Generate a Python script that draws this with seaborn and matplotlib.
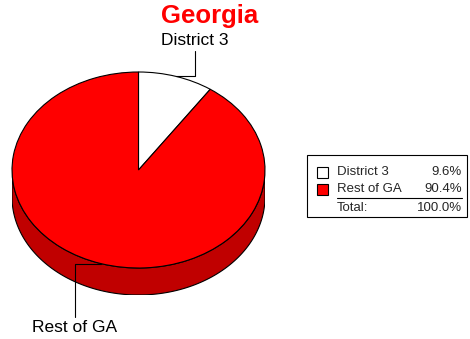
import matplotlib
matplotlib.use('Agg')
import matplotlib.pyplot as plt
import seaborn as sns
import numpy as np
from matplotlib.patches import Polygon, Rectangle

# chart data
title = 'Georgia'
labels = ['District 3', 'Rest of GA']
shares = [9.6, 90.4]
top_colors = ['#ffffff', '#ff0000']
side_colors = ['#ffffff', '#c00000']

sns.set_theme(style='white')
plt.rcParams['font.family'] = ['Liberation Sans', 'DejaVu Sans']

W, H = 470, 339
fig = plt.figure(figsize=(W / 100, H / 100), dpi=100)

# pie geometry in pixels (top face ellipse + wall depth)
cx, cy, rx, ry, depth = 138.5, 170, 126.5, 98, 27
d = depth / ry

ax = fig.add_axes([(cx - rx) / W, 1 - (cy + ry + depth) / H,
                   2 * rx / W, (2 * ry + depth) / H])

# slice angles, clockwise from 12 o'clock
fr = np.array(shares) / sum(shares)
starts = 90 - 360 * np.concatenate([[0], np.cumsum(fr)[:-1]])
ends = starts - 360 * fr

# side wall: only the front half (-180..0 deg) is visible
for s, e, c in zip(starts, ends, side_colors):
    lo, hi = max(e, -180), min(s, 0)
    if hi <= lo:
        continue
    t = np.radians(np.linspace(lo, hi, 120))
    top = np.column_stack([np.cos(t), np.sin(t)])
    bot = np.column_stack([np.cos(t), np.sin(t) - d])[::-1]
    ax.add_patch(Polygon(np.vstack([top, bot]), closed=True, facecolor=c,
                         edgecolor='black', linewidth=0.8))

ax.pie(shares, colors=top_colors, startangle=90, counterclock=False,
       wedgeprops=dict(edgecolor='black', linewidth=0.8))
ax.set_aspect('auto')
ax.set_xlim(-1, 1)
ax.set_ylim(-1 - d, 1)
ax.axis('off')

# slice labels with elbow leader lines
label_offsets = [(19, 36), (-26, -64)]
for lab, s, e, off in zip(labels, starts, ends, label_offsets):
    m = np.radians((s + e) / 2)
    ax.annotate(lab, xy=(np.cos(m), np.sin(m)), xytext=off,
                textcoords='offset pixels', ha='center', va='center',
                fontsize=12.5, color='black', annotation_clip=False,
                arrowprops=dict(arrowstyle='-', color='black', lw=0.8,
                                shrinkA=0, shrinkB=0,
                                connectionstyle='angle,angleA=90,angleB=0,rad=0'))

fig.text(210 / W, 1 - 16 / H, title, color='#ff0000', fontsize=18.5,
         fontweight='bold', ha='center', va='center')

# legend table drawn in pixel space
lax = fig.add_axes([0, 0, 1, 1])
lax.set_xlim(0, W)
lax.set_ylim(H, 0)
lax.axis('off')
lax.add_patch(Rectangle((307, 155), 160, 62, facecolor='white',
                        edgecolor='black', linewidth=0.8))
rows_y = [172, 189]
for lab, v, c, y in zip(labels, shares, top_colors, rows_y):
    lax.add_patch(Rectangle((317, y - 5.5), 11, 11, facecolor=c,
                            edgecolor='black', linewidth=0.8))
    lax.text(337, y, lab, fontsize=9.5, ha='left', va='center')
    lax.text(462, y, f'{v:.1f}%', fontsize=9.5, ha='right', va='center')
lax.plot([337, 462], [198, 198], color='black', lw=0.8)
lax.text(337, 208, 'Total:', fontsize=9.5, ha='left', va='center')
lax.text(462, 208, f'{sum(shares):.1f}%', fontsize=9.5, ha='right', va='center')

fig.savefig('out.png', dpi=100, facecolor='white')
